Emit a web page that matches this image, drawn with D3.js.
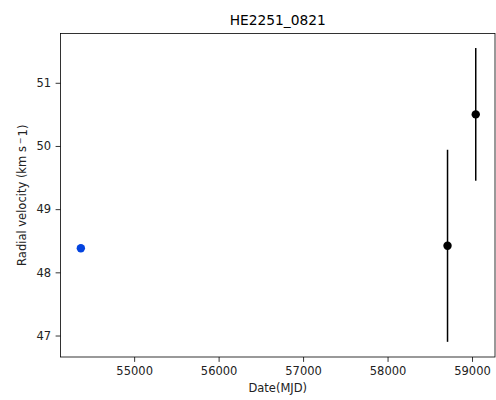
<!DOCTYPE html>
<html>
<head>
<meta charset="utf-8">
<script src="https://cdn.jsdelivr.net/npm/d3@7"></script>
<style>
  html, body { margin: 0; padding: 0; background: #fff; }
  svg { display: block; font-family: "DejaVu Sans", sans-serif; }
</style>
</head>
<body>
<div id="chart"></div>
<script>
// Data
const blueMJD = [54369];
const blueVel = [48.38];
const blackMJD = [58710, 59044];
const blackVel = [48.42, 50.50];
const blackErr = [1.52, 1.05];
const xTicks = [55000, 56000, 57000, 58000, 59000];
const yTicks = [47, 48, 49, 50, 51];
const title = "HE2251_0821";

const W = 496, H = 400;
const m = { left: 60.5, top: 33.5, right: 495, bottom: 357 };

const svg = d3.select("#chart").append("svg")
  .attr("width", W).attr("height", H);

const x = d3.scaleLinear().domain([54128, 59272]).range([m.left, m.right]);
const y = d3.scaleLinear().domain([46.66, 51.78]).range([m.bottom, m.top]);

// Error bars
const blackData = blackMJD.map((d, i) => ({ x: d, y: blackVel[i], e: blackErr[i] }));
svg.append("g").selectAll("line").data(blackData).join("line")
  .attr("x1", d => x(d.x)).attr("x2", d => x(d.x))
  .attr("y1", d => y(d.y - d.e)).attr("y2", d => y(d.y + d.e))
  .attr("stroke", "#000").attr("stroke-width", 1.5);

svg.append("g").selectAll("circle").data(blackData).join("circle")
  .attr("cx", d => x(d.x)).attr("cy", d => y(d.y)).attr("r", 4.2)
  .attr("fill", "#000");

const blueData = blueMJD.map((d, i) => ({ x: d, y: blueVel[i] }));
svg.append("g").selectAll("circle").data(blueData).join("circle")
  .attr("cx", d => x(d.x)).attr("cy", d => y(d.y)).attr("r", 4.2)
  .attr("fill", "#0343df");

// Axes
const xAxis = svg.append("g").attr("transform", `translate(0,${m.bottom})`)
  .call(d3.axisBottom(x).tickValues(xTicks).tickFormat(d3.format("d")).tickSizeOuter(0).tickSize(4.9).tickPadding(4.5));
const yAxis = svg.append("g").attr("transform", `translate(${m.left},0)`)
  .call(d3.axisLeft(y).tickValues(yTicks).tickFormat(d3.format("d")).tickSizeOuter(0).tickSize(4.9).tickPadding(4.5));
[xAxis, yAxis].forEach(g => {
  g.select(".domain").remove();
  g.selectAll("line").attr("stroke", "#000").attr("stroke-width", 0.8);
  g.selectAll("text").attr("font-size", "11.5px").attr("fill", "#222")
    .attr("font-family", "DejaVu Sans, sans-serif");
});

// Frame
svg.append("rect")
  .attr("x", m.left).attr("y", m.top)
  .attr("width", m.right - m.left).attr("height", m.bottom - m.top)
  .attr("fill", "none").attr("stroke", "#000").attr("stroke-width", 0.8);

// Title
svg.append("text").attr("x", (m.left + m.right) / 2).attr("y", 25)
  .attr("text-anchor", "middle").attr("font-size", "13.8px").attr("fill", "#000")
  .text(title);

// X label
svg.append("text").attr("x", (m.left + m.right) / 2).attr("y", 392)
  .attr("text-anchor", "middle").attr("font-size", "11.5px").attr("fill", "#222")
  .text("Date(MJD)");

// Y label
const yl = svg.append("text")
  .attr("transform", `translate(26,${(m.top + m.bottom) / 2}) rotate(-90)`)
  .attr("text-anchor", "middle").attr("font-size", "11.5px").attr("fill", "#222");
yl.append("tspan").text("Radial velocity (km s");
yl.append("tspan").attr("dx", 2).attr("dy", "-0.4em").attr("font-size", "8px").text("\u2212");
yl.append("tspan").attr("dx", 1).attr("dy", "0.4em").text("1)");
</script>
</body>
</html>
